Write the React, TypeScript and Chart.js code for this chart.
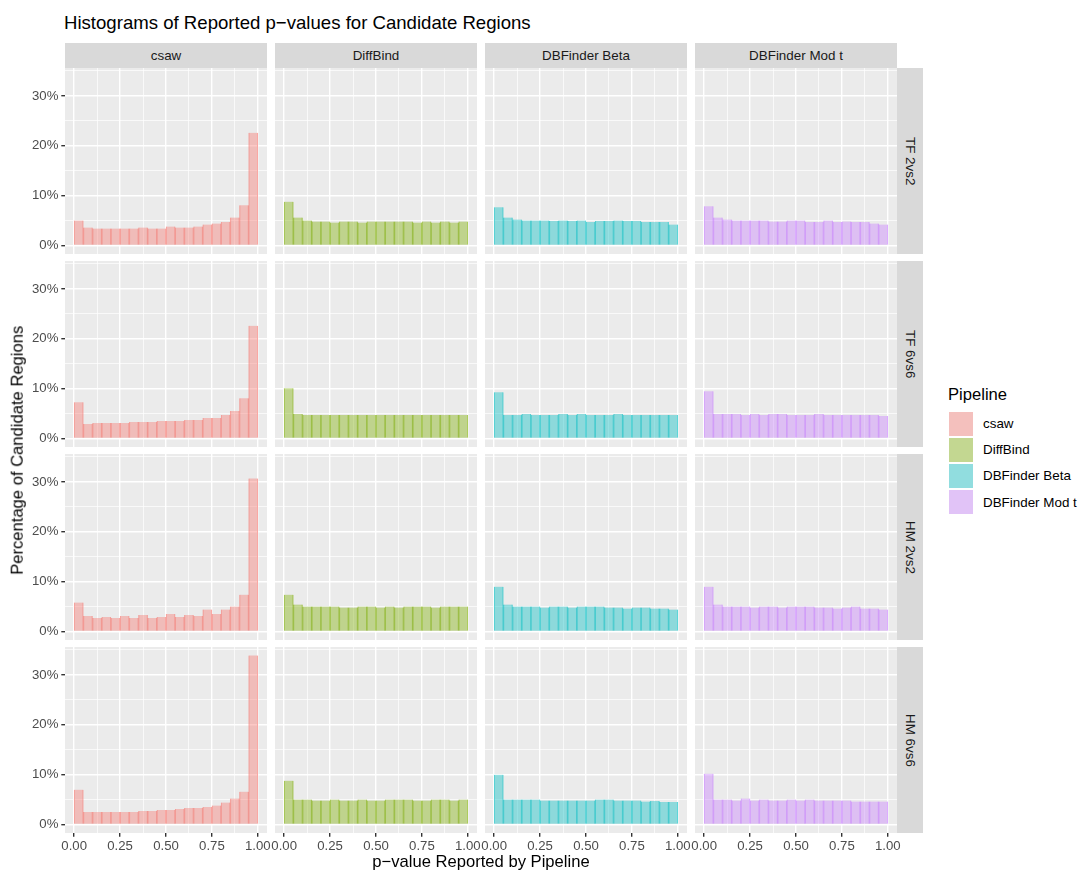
import React, { useEffect, useRef } from "react";
import { Chart, registerables } from "chart.js";

Chart.register(...registerables);

// Facets
const PIPELINES = ["csaw", "DiffBind", "DBFinder Beta", "DBFinder Mod t"];
const DESIGNS = ["TF 2vs2", "TF 6vs6", "HM 2vs2", "HM 6vs6"];
const PIPELINE_RGB = ["248,118,109", "124,174,0", "0,191,196", "199,124,255"];

// Histogram bins (binwidth 0.05 on [0, 1])
const BIN_EDGES = [
  0, 0.05, 0.1, 0.15, 0.2, 0.25, 0.3, 0.35, 0.4, 0.45, 0.5,
  0.55, 0.6, 0.65, 0.7, 0.75, 0.8, 0.85, 0.9, 0.95, 1,
];
const X_BREAKS = [0, 0.25, 0.5, 0.75, 1];
const X_MINOR = [0.125, 0.375, 0.625, 0.875];
const Y_BREAKS = [0, 10, 20, 30];
const Y_MINOR = [5, 15, 25, 35];

// Percentage of candidate regions per p-value bin
const tf2vs2_csaw = [5.0, 3.6, 3.4, 3.4, 3.4, 3.4, 3.4, 3.6, 3.4, 3.4, 3.8, 3.6, 3.6, 3.8, 4.2, 4.4, 4.7, 5.6, 8.1, 22.6];
const tf2vs2_diffbind = [8.8, 5.6, 5.0, 4.8, 4.8, 4.6, 4.8, 4.8, 4.6, 4.8, 4.8, 4.8, 4.8, 4.8, 4.6, 4.8, 4.6, 4.8, 4.6, 4.8];
const tf2vs2_dbfBeta = [7.7, 5.6, 5.2, 5.0, 5.0, 5.0, 4.9, 5.0, 4.9, 5.0, 4.7, 4.9, 4.9, 5.0, 4.9, 4.9, 4.7, 4.7, 4.7, 4.2];
const tf2vs2_dbfModt = [7.9, 5.6, 5.2, 5.0, 5.0, 5.0, 5.0, 4.8, 4.8, 5.0, 5.0, 4.7, 4.7, 5.0, 4.7, 4.8, 4.7, 4.7, 4.4, 4.2];

const tf6vs6_csaw = [7.3, 2.9, 3.1, 3.1, 3.1, 3.1, 3.3, 3.3, 3.3, 3.5, 3.5, 3.5, 3.7, 3.7, 4.1, 4.1, 4.7, 5.5, 8.1, 22.6];
const tf6vs6_diffbind = [10.1, 4.9, 4.7, 4.7, 4.7, 4.7, 4.7, 4.7, 4.7, 4.7, 4.7, 4.7, 4.7, 4.7, 4.7, 4.7, 4.7, 4.7, 4.7, 4.7];
const tf6vs6_dbfBeta = [9.3, 4.7, 4.7, 4.9, 4.7, 4.7, 4.7, 4.9, 4.7, 4.9, 4.7, 4.7, 4.7, 4.9, 4.7, 4.7, 4.7, 4.7, 4.7, 4.7];
const tf6vs6_dbfModt = [9.5, 4.9, 4.9, 4.9, 4.7, 4.9, 4.7, 4.9, 4.9, 4.7, 4.7, 4.7, 4.9, 4.7, 4.7, 4.7, 4.7, 4.7, 4.7, 4.5];

const hm2vs2_csaw = [5.8, 3.1, 2.7, 2.9, 2.7, 3.1, 2.7, 3.3, 2.7, 2.9, 3.5, 2.9, 3.3, 3.1, 4.4, 3.5, 4.4, 5.0, 7.4, 30.7];
const hm2vs2_diffbind = [7.4, 5.4, 5.0, 5.0, 5.0, 5.0, 4.8, 4.8, 5.0, 5.0, 4.8, 5.0, 4.8, 5.0, 5.0, 5.0, 4.8, 5.0, 5.0, 5.0];
const hm2vs2_dbfBeta = [9.0, 5.4, 5.0, 5.0, 5.0, 4.8, 5.0, 5.0, 4.8, 5.0, 5.0, 5.0, 4.8, 4.8, 4.6, 4.8, 4.8, 4.6, 4.6, 4.4];
const hm2vs2_dbfModt = [9.0, 5.4, 5.0, 5.0, 5.0, 4.8, 5.0, 5.0, 4.8, 5.0, 5.0, 5.0, 4.8, 4.8, 4.6, 4.8, 5.0, 4.6, 4.6, 4.4];

const hm6vs6_csaw = [7.0, 2.5, 2.5, 2.5, 2.5, 2.5, 2.5, 2.7, 2.7, 2.9, 2.9, 3.1, 3.3, 3.3, 3.5, 3.8, 4.4, 5.2, 6.6, 33.9];
const hm6vs6_diffbind = [8.8, 5.0, 5.0, 4.8, 4.8, 5.0, 4.8, 4.8, 5.0, 4.8, 4.8, 5.0, 5.0, 5.0, 4.8, 4.8, 5.0, 5.0, 4.8, 5.0];
const hm6vs6_dbfBeta = [10.0, 5.0, 5.0, 5.0, 5.0, 4.8, 4.8, 4.8, 4.8, 4.8, 4.8, 5.0, 5.0, 4.8, 4.8, 4.8, 4.6, 4.7, 4.5, 4.5];
const hm6vs6_dbfModt = [10.2, 5.0, 5.0, 4.8, 5.2, 4.8, 5.0, 4.8, 4.8, 5.0, 4.8, 5.0, 4.8, 4.8, 4.8, 4.8, 4.6, 4.6, 4.6, 4.6];

// rows = designs, columns = pipelines
const PANEL_VALUES = [
  [tf2vs2_csaw, tf2vs2_diffbind, tf2vs2_dbfBeta, tf2vs2_dbfModt],
  [tf6vs6_csaw, tf6vs6_diffbind, tf6vs6_dbfBeta, tf6vs6_dbfModt],
  [hm2vs2_csaw, hm2vs2_diffbind, hm2vs2_dbfBeta, hm2vs2_dbfModt],
  [hm6vs6_csaw, hm6vs6_diffbind, hm6vs6_dbfBeta, hm6vs6_dbfModt],
];

// Facet grid geometry (px)
const COL_LEFT = [65, 275, 485, 695];
const ROW_TOP = [68, 261, 454, 647];
const PANEL_W = 202;
const PANEL_H = 186;
const STRIP_TOP = 43;
const STRIP_H = 25;
const RSTRIP_W = 26;
const SIDE_M = 18;
const X_AXIS_H = 26;

const FONT = "'Liberation Sans', Arial, Helvetica, sans-serif";
const TICK_SIZE = 13.2;
const STRIP_SIZE = 13.4;
const AXIS_TITLE_SIZE = 16.6;
const TITLE_SIZE = 18.6;

// Shared scale limits with ggplot-like 5% expansion
const DATA_MAX = Math.max(...PANEL_VALUES.flat(2));
const Y_MIN = -0.05 * DATA_MAX;
const Y_MAX = 1.05 * DATA_MAX;
const X_MIN = BIN_EDGES[0] - 0.05 * (BIN_EDGES[BIN_EDGES.length - 1] - BIN_EDGES[0]);
const X_MAX = BIN_EDGES[BIN_EDGES.length - 1] + 0.05 * (BIN_EDGES[BIN_EDGES.length - 1] - BIN_EDGES[0]);

const panelBackground = {
  id: "panelBackground",
  beforeDraw(chart: any) {
    const { ctx, chartArea } = chart;
    ctx.save();
    ctx.fillStyle = "#EBEBEB";
    ctx.fillRect(chartArea.left, chartArea.top, chartArea.right - chartArea.left, chartArea.bottom - chartArea.top);
    ctx.restore();
  },
};

function zeroPadding(s: any) {
  s.paddingLeft = 0;
  s.paddingRight = 0;
  s.paddingTop = 0;
  s.paddingBottom = 0;
}

const near = (list: number[], v: number) => list.some((b) => Math.abs(b - v) < 1e-9);
const tickVal = (ctx: any) => (ctx && ctx.tick ? Number(ctx.tick.value) : NaN);

function Panel({ row, col }: { row: number; col: number }) {
  const ref = useRef<HTMLCanvasElement>(null);
  const isLeft = col === 0;
  const isBottom = row === DESIGNS.length - 1;
  const canvasLeft = isLeft ? 0 : COL_LEFT[col] - SIDE_M;
  const yAxisW = isLeft ? COL_LEFT[0] : 0;
  const width = COL_LEFT[col] - canvasLeft + PANEL_W + SIDE_M;
  const height = PANEL_H + (isBottom ? X_AXIS_H : 0);

  useEffect(() => {
    const values = PANEL_VALUES[row][col];
    const centers = BIN_EDGES.slice(0, -1).map((e, k) => (e + BIN_EDGES[k + 1]) / 2);
    const rgb = PIPELINE_RGB[col];

    const chart = new Chart(ref.current as HTMLCanvasElement, {
      type: "bar",
      data: {
        datasets: [
          {
            data: values.map((v, k) => ({ x: centers[k], y: v })),
            backgroundColor: `rgba(${rgb},0.4)`,
            borderColor: `rgba(${rgb},0.5)`,
            borderWidth: { left: 0.5, right: 0.5, top: 0, bottom: 0 },
            borderSkipped: false,
            barPercentage: 1,
            categoryPercentage: 1,
          } as any,
        ],
      },
      options: {
        responsive: false,
        animation: false,
        events: [],
        layout: { padding: { left: isLeft ? 0 : SIDE_M, right: SIDE_M, top: 0, bottom: 0 } },
        plugins: {
          legend: { display: false },
          tooltip: { enabled: false },
          title: { display: false },
        },
        scales: {
          x: {
            type: "linear",
            position: "bottom",
            offset: false,
            min: X_MIN,
            max: X_MAX,
            afterBuildTicks: (s: any) => {
              s.ticks = [...X_BREAKS, ...X_MINOR].sort((a, b) => a - b).map((v) => ({ value: v }));
            },
            afterFit: (s: any) => {
              s.height = isBottom ? X_AXIS_H : 0;
              zeroPadding(s);
            },
            border: { display: false },
            grid: {
              offset: false,
              color: "#FFFFFF",
              lineWidth: (ctx: any) => (near(X_BREAKS, tickVal(ctx)) ? 1.4 : 0.7),
              drawTicks: isBottom,
              tickLength: 3.7,
              tickWidth: 1.4,
              tickColor: (ctx: any) => (near(X_BREAKS, tickVal(ctx)) ? "#333333" : "rgba(0,0,0,0)"),
            },
            ticks: {
              display: isBottom,
              autoSkip: false,
              maxRotation: 0,
              minRotation: 0,
              padding: 1.5,
              color: "#4D4D4D",
              font: { family: FONT, size: TICK_SIZE },
              callback: (v: any) => (near(X_BREAKS, Number(v)) ? Number(v).toFixed(2) : ""),
            },
          },
          y: {
            type: "linear",
            position: "left",
            min: Y_MIN,
            max: Y_MAX,
            afterBuildTicks: (s: any) => {
              s.ticks = [...Y_BREAKS, ...Y_MINOR].sort((a, b) => a - b).map((v) => ({ value: v }));
            },
            afterFit: (s: any) => {
              s.width = yAxisW;
              zeroPadding(s);
            },
            border: { display: false },
            grid: {
              color: "#FFFFFF",
              lineWidth: (ctx: any) => (near(Y_BREAKS, tickVal(ctx)) ? 1.4 : 0.7),
              drawTicks: isLeft,
              tickLength: 3.7,
              tickWidth: 1.4,
              tickColor: (ctx: any) => (near(Y_BREAKS, tickVal(ctx)) ? "#333333" : "rgba(0,0,0,0)"),
            },
            ticks: {
              display: isLeft,
              autoSkip: false,
              padding: 2.9,
              color: "#4D4D4D",
              font: { family: FONT, size: TICK_SIZE },
              callback: (v: any) => (near(Y_BREAKS, Number(v)) ? `${Number(v)}%` : ""),
            },
          },
        },
      } as any,
      plugins: [panelBackground],
    });
    return () => chart.destroy();
  }, [row, col]);

  return (
    <canvas
      ref={ref}
      width={width}
      height={height}
      style={{ position: "absolute", left: canvasLeft, top: ROW_TOP[row], width, height }}
    />
  );
}

export default function App() {
  const text = { fontFamily: FONT, position: "absolute" as const, whiteSpace: "nowrap" as const };
  const gridBottom = ROW_TOP[ROW_TOP.length - 1] + PANEL_H;
  const gridLeft = COL_LEFT[0];
  const gridRight = COL_LEFT[COL_LEFT.length - 1] + PANEL_W;
  return (
    <div style={{ position: "absolute", left: 0, top: 0, width: 1081, height: 874, background: "#FFFFFF", overflow: "hidden" }}>
      <div style={{ ...text, left: 64, top: 14, fontSize: TITLE_SIZE, lineHeight: `${TITLE_SIZE}px`, color: "#000000" }}>
        Histograms of Reported p−values for Candidate Regions
      </div>

      {PIPELINES.map((p, c) => (
        <div
          key={p}
          style={{
            ...text,
            left: COL_LEFT[c],
            top: STRIP_TOP,
            width: PANEL_W,
            height: STRIP_H,
            background: "#D9D9D9",
            color: "#1A1A1A",
            fontSize: STRIP_SIZE,
            display: "flex",
            alignItems: "center",
            justifyContent: "center",
          }}
        >
          {p}
        </div>
      ))}

      {DESIGNS.map((d, r) => (
        <div
          key={d}
          style={{
            ...text,
            left: gridRight,
            top: ROW_TOP[r],
            width: RSTRIP_W,
            height: PANEL_H,
            background: "#D9D9D9",
            color: "#1A1A1A",
            fontSize: STRIP_SIZE,
            display: "flex",
            alignItems: "center",
            justifyContent: "center",
          }}
        >
          <span style={{ writingMode: "vertical-rl" }}>{d}</span>
        </div>
      ))}

      {DESIGNS.map((d, r) => PIPELINES.map((p, c) => <Panel key={`${d}-${p}`} row={r} col={c} />))}

      <div
        style={{
          ...text,
          left: (gridLeft + gridRight) / 2 - 200,
          width: 400,
          textAlign: "center",
          top: 862 - AXIS_TITLE_SIZE / 2,
          fontSize: AXIS_TITLE_SIZE,
          lineHeight: `${AXIS_TITLE_SIZE}px`,
          color: "#000000",
        }}
      >
        p−value Reported by Pipeline
      </div>

      <div
        style={{
          ...text,
          left: 18 - 200,
          top: (ROW_TOP[0] + gridBottom) / 2 - AXIS_TITLE_SIZE / 2,
          width: 400,
          height: AXIS_TITLE_SIZE,
          textAlign: "center",
          fontSize: AXIS_TITLE_SIZE,
          lineHeight: `${AXIS_TITLE_SIZE}px`,
          color: "#000000",
          transform: "rotate(-90deg)",
          transformOrigin: "50% 50%",
        }}
      >
        Percentage of Candidate Regions
      </div>

      <div style={{ ...text, left: 948, top: 395 - AXIS_TITLE_SIZE / 2, fontSize: AXIS_TITLE_SIZE, lineHeight: `${AXIS_TITLE_SIZE}px`, color: "#000000" }}>
        Pipeline
      </div>
      {PIPELINES.map((p, c) => (
        <React.Fragment key={p}>
          <div
            style={{
              position: "absolute",
              left: 948,
              top: 410.5 + c * 26.2,
              width: 26,
              height: 26,
              boxSizing: "border-box",
              border: "1px solid #FFFFFF",
              background: "#F2F2F2",
            }}
          >
            <div style={{ width: "100%", height: "100%", background: `rgba(${PIPELINE_RGB[c]},0.4)` }} />
          </div>
          <div
            style={{
              ...text,
              left: 983,
              top: 410.5 + c * 26.2,
              height: 26,
              display: "flex",
              alignItems: "center",
              fontSize: STRIP_SIZE,
              color: "#000000",
            }}
          >
            {p}
          </div>
        </React.Fragment>
      ))}
    </div>
  );
}
